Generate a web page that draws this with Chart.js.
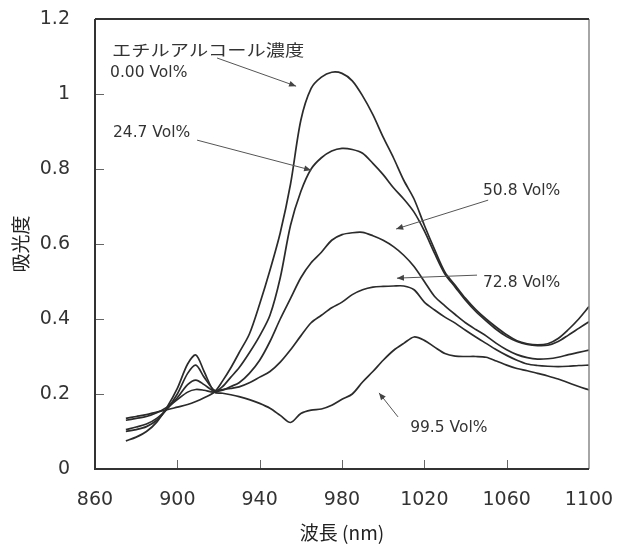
<!DOCTYPE html>
<html><head><meta charset="utf-8">
<script src="https://cdn.jsdelivr.net/npm/chart.js@4.4.1/dist/chart.umd.min.js"></script>
<style>html,body{margin:0;padding:0;background:#fff;}</style>
</head><body>
<canvas id="c" width="618" height="549"></canvas>
<script>
// ---- data (wavelength in nm, absorbance) ----
const wavelengths = [875,880,885,890,895,900,905,909,913,918,922,926,930,
  935,940,945,950,955,960,965,970,975,980,
  985,990,995,1000,1005,1010,1015,1020,1025,1030,
  1035,1040,1045,1050,1055,1060,1065,1070,1075,1080,
  1085,1090,1095,1100];
const vol000 = [0.135,0.14,0.145,0.152,0.158,0.165,0.172,0.18,0.19,0.205,0.235,0.27,0.31,
  0.36,0.44,0.53,0.63,0.76,0.93,1.015,1.045,1.058,1.055,
  1.035,0.995,0.945,0.885,0.83,0.77,0.72,0.65,0.585,0.525,
  0.49,0.455,0.425,0.40,0.378,0.358,0.342,0.334,0.331,0.334,
  0.348,0.372,0.40,0.433];
const vol247 = [0.13,0.135,0.14,0.15,0.165,0.185,0.205,0.212,0.21,0.205,0.22,0.245,0.27,
  0.31,0.355,0.41,0.51,0.65,0.74,0.80,0.83,0.848,0.855,
  0.852,0.842,0.815,0.785,0.75,0.72,0.685,0.635,0.575,0.52,
  0.485,0.45,0.42,0.395,0.372,0.353,0.34,0.332,0.329,0.33,
  0.34,0.357,0.375,0.393];
const vol508 = [0.105,0.112,0.12,0.135,0.16,0.19,0.225,0.237,0.225,0.207,0.21,0.22,0.23,
  0.255,0.29,0.34,0.40,0.455,0.51,0.55,0.578,0.61,0.625,
  0.63,0.631,0.622,0.61,0.593,0.57,0.54,0.50,0.46,0.435,
  0.412,0.39,0.372,0.355,0.335,0.318,0.305,0.297,0.293,0.294,
  0.298,0.305,0.311,0.317];
const vol728 = [0.10,0.105,0.113,0.13,0.16,0.2,0.255,0.277,0.245,0.21,0.212,0.215,0.219,
  0.23,0.245,0.26,0.285,0.318,0.355,0.39,0.41,0.43,0.445,
  0.465,0.478,0.485,0.487,0.488,0.488,0.478,0.445,0.424,0.405,
  0.389,0.37,0.352,0.335,0.318,0.303,0.29,0.28,0.276,0.274,
  0.273,0.274,0.276,0.277];
const vol995 = [0.075,0.085,0.1,0.125,0.165,0.215,0.28,0.304,0.26,0.205,0.202,0.198,0.193,
  0.185,0.175,0.162,0.143,0.124,0.148,0.157,0.16,0.17,0.186,
  0.2,0.232,0.26,0.29,0.316,0.335,0.352,0.343,0.325,0.308,
  0.301,0.30,0.30,0.298,0.288,0.277,0.268,0.262,0.255,0.248,
  0.24,0.23,0.22,0.211];
const seriesNames = ['0.00 Vol%','24.7 Vol%','50.8 Vol%','72.8 Vol%','99.5 Vol%'];
const xTicks = [860,900,940,980,1020,1060,1100];
const yTicks = [0,0.2,0.4,0.6,0.8,1,1.2];
const yTickLabels = ['0','0.2','0.4','0.6','0.8','1','1.2'];
const xTitle = '波長 (nm)';
const yTitle = '吸光度';
const headerText = 'エチルアルコール濃度';

// annotation placement (data coordinates)
const notes = [
  {text: headerText, at:[868.3,1.117], font:'16px "Noto Sans CJK JP"', stretch:1.2, base:'middle'},
  {text: seriesNames[0], at:[867.3,1.045], font:'15.5px "DejaVu Sans"', stretch:1, base:'alphabetic'},
  {text: seriesNames[1], at:[868.7,0.885], font:'15.5px "DejaVu Sans"', stretch:1, base:'alphabetic'},
  {text: seriesNames[2], at:[1048.5,0.731], font:'15.5px "DejaVu Sans"', stretch:1, base:'alphabetic'},
  {text: seriesNames[3], at:[1048.5,0.485], font:'15.5px "DejaVu Sans"', stretch:1, base:'alphabetic'},
  {text: seriesNames[4], at:[1013.1,0.099], font:'15.5px "DejaVu Sans"', stretch:1, base:'alphabetic'}
];
const arrows = [
  {from:[919.3,1.096], to:[957.7,1.021]},
  {from:[909.6,0.877], to:[965.0,0.797]},
  {from:[1051.0,0.717], to:[1006.3,0.640]},
  {from:[1045.6,0.517], to:[1006.7,0.509]},
  {from:[1007.2,0.139], to:[998.0,0.203]}
];

const allSeries = [vol000, vol247, vol508, vol728, vol995];
const datasets = allSeries.map((vals, k) => ({
  label: seriesNames[k],
  data: wavelengths.map((w, i) => ({x: w, y: vals[i]})),
  borderColor: '#2b2b2b',
  borderWidth: 1.7,
  pointRadius: 0,
  tension: 0.3,
  fill: false
}));

const framePlugin = {
  id: 'frame',
  afterDatasetsDraw(chart) {
    const {ctx, chartArea: a, scales: {x, y}} = chart;
    ctx.save();
    ctx.strokeStyle = '#666';
    ctx.lineWidth = 1;
    ctx.beginPath();
    xTicks.slice(1, -1).forEach(v => {
      const px = Math.round(x.getPixelForValue(v)) + 0.5;
      ctx.moveTo(px, a.bottom); ctx.lineTo(px, a.bottom - 9);
    });
    yTicks.slice(1, -1).forEach(v => {
      const py = Math.round(y.getPixelForValue(v)) + 0.5;
      ctx.moveTo(a.left, py); ctx.lineTo(a.left + 9, py);
    });
    ctx.stroke();
    ctx.lineWidth = 1.5;
    ctx.strokeStyle = '#888';
    ctx.beginPath(); ctx.moveTo(a.right, a.top); ctx.lineTo(a.right, a.bottom); ctx.stroke();
    ctx.lineWidth = 2;
    ctx.strokeStyle = '#333';
    ctx.beginPath();
    ctx.moveTo(a.left, a.top); ctx.lineTo(a.right, a.top);
    ctx.moveTo(a.left, a.top); ctx.lineTo(a.left, a.bottom); ctx.lineTo(a.right, a.bottom);
    ctx.stroke();

    ctx.strokeStyle = '#555';
    ctx.fillStyle = '#444';
    ctx.lineWidth = 1;
    arrows.forEach(ar => {
      const x1 = x.getPixelForValue(ar.from[0]), y1 = y.getPixelForValue(ar.from[1]);
      const x2 = x.getPixelForValue(ar.to[0]), y2 = y.getPixelForValue(ar.to[1]);
      const ang = Math.atan2(y2 - y1, x2 - x1);
      ctx.beginPath(); ctx.moveTo(x1, y1); ctx.lineTo(x2, y2); ctx.stroke();
      const L = 7, W = 3;
      ctx.beginPath();
      ctx.moveTo(x2, y2);
      ctx.lineTo(x2 - L * Math.cos(ang) + W * Math.sin(ang), y2 - L * Math.sin(ang) - W * Math.cos(ang));
      ctx.lineTo(x2 - L * Math.cos(ang) - W * Math.sin(ang), y2 - L * Math.sin(ang) + W * Math.cos(ang));
      ctx.closePath(); ctx.fill();
    });
    ctx.fillStyle = '#333';
    notes.forEach(n => {
      const px = x.getPixelForValue(n.at[0]), py = y.getPixelForValue(n.at[1]);
      ctx.save();
      ctx.font = n.font;
      ctx.textAlign = 'left';
      ctx.textBaseline = n.base;
      ctx.translate(px, py);
      ctx.scale(n.stretch, 1);
      ctx.fillText(n.text, 0, 0);
      ctx.restore();
    });
    ctx.restore();
  }
};

new Chart(document.getElementById('c'), {
  type: 'line',
  data: {datasets},
  plugins: [framePlugin],
  options: {
    responsive: false,
    animation: false,
    devicePixelRatio: 1,
    layout: {padding: {top: 19, right: 29, left: 0, bottom: 0}},
    plugins: {legend: {display: false}, tooltip: {enabled: false}},
    scales: {
      x: {
        type: 'linear', min: 860, max: 1100,
        afterBuildTicks: s => { s.ticks = xTicks.map(v => ({value: v})); },
        afterFit: s => { s.height = 80; s.paddingLeft = 0; s.paddingRight = 0; },
        ticks: {font: {family: 'DejaVu Sans', size: 19}, color: '#333', padding: 20,
                maxRotation: 0, autoSkip: false, callback: v => String(v)},
        grid: {display: false, drawTicks: false},
        border: {display: false},
        title: {display: true, text: xTitle, color: '#222',
                font: {family: 'Noto Sans CJK JP', size: 19}, padding: {top: 0, bottom: 5}}
      },
      y: {
        type: 'linear', min: 0, max: 1.2,
        afterBuildTicks: s => { s.ticks = yTicks.map(v => ({value: v})); },
        afterFit: s => { s.width = 95; s.paddingTop = 0; s.paddingBottom = 0; },
        ticks: {font: {family: 'DejaVu Sans', size: 19}, color: '#333', padding: 25,
                callback: (v, i) => yTickLabels[i]},
        grid: {display: false, drawTicks: false},
        border: {display: false},
        title: {display: true, text: yTitle, color: '#222',
                font: {family: 'Noto Sans CJK JP', size: 19}, padding: {top: 9, bottom: 0}}
      }
    }
  }
});
</script>
</body></html>
